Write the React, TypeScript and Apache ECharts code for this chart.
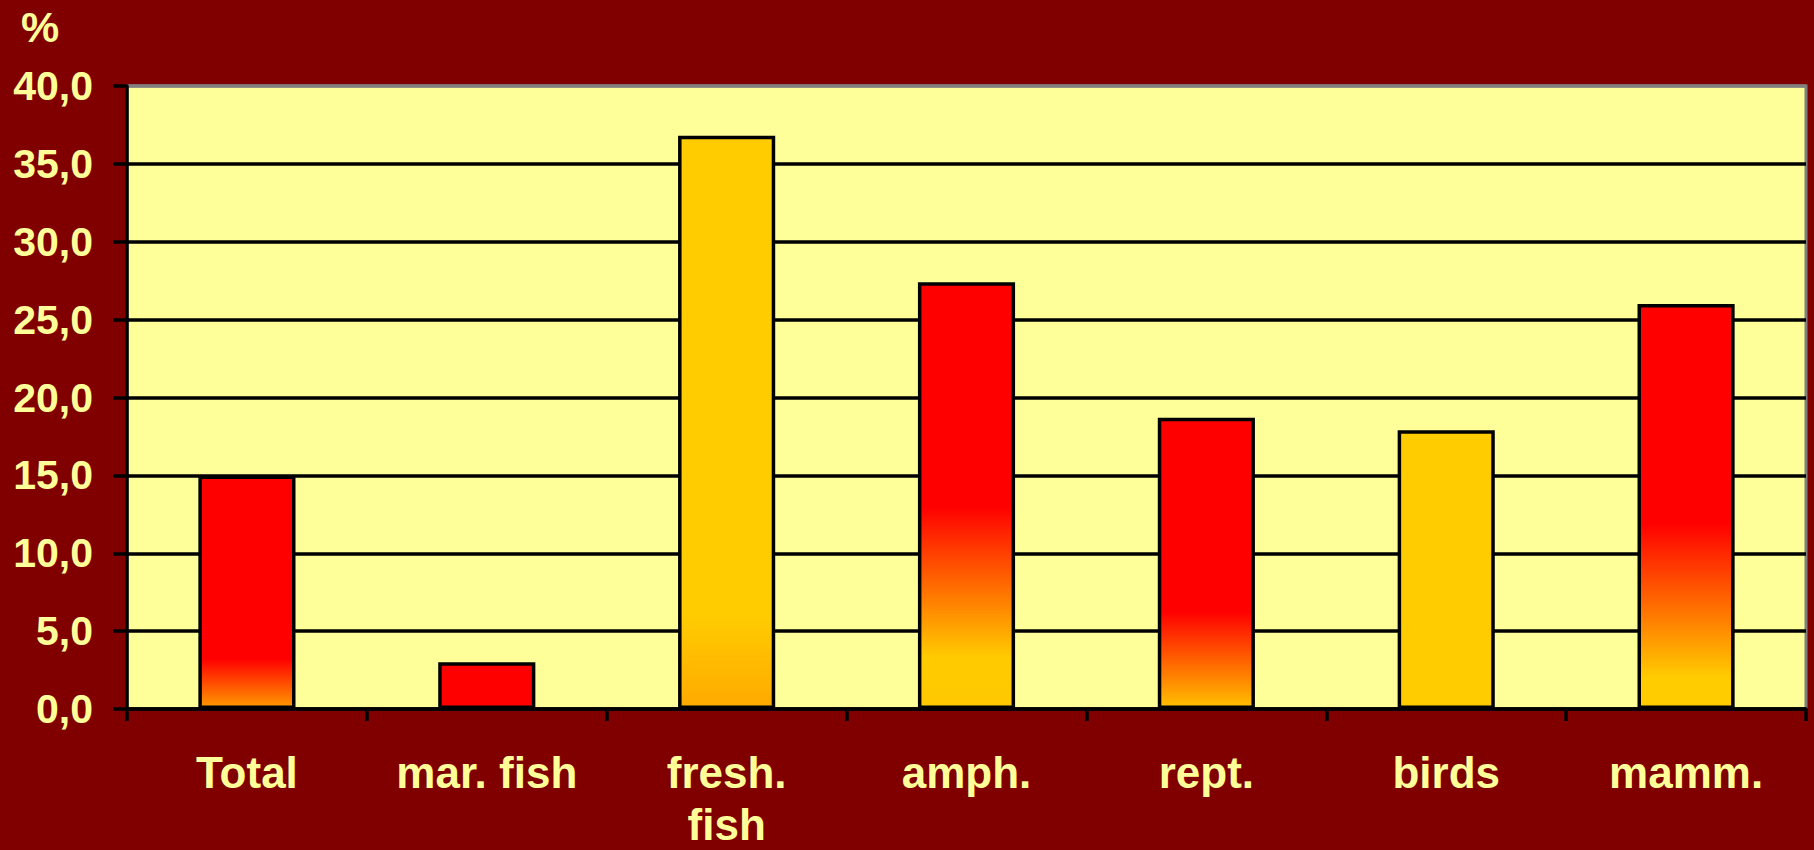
import React, { useEffect, useRef } from "react";
import * as echarts from "echarts";

const categories = ["Total", "mar. fish", "fresh.\nfish", "amph.", "rept.", "birds", "mamm."];
const values = [15.0, 3.0, 36.8, 27.4, 18.7, 17.9, 26.0];
const yTicks = { min: 0, max: 40, interval: 5 };
const unitLabel = "%";

// per-bar fill gradients (top -> bottom), styling only
const RED = "#FF0000";
const YEL = "#FFCC00";
const fills: [number, string][][] = [
  [[0, RED], [0.79, RED], [1, "#FF9900"]],
  [[0, RED], [1, RED]],
  [[0, YEL], [0.84, YEL], [1, "#FFAA00"]],
  [[0, RED], [0.526, RED], [0.883, YEL], [1, "#FFC800"]],
  [[0, RED], [0.668, RED], [1, "#FFC000"]],
  [[0, YEL], [1, YEL]],
  [[0, RED], [0.542, RED], [0.927, YEL], [1, YEL]],
];

const FONT = "'Liberation Sans', Arial, sans-serif";
const TXT = "#FFFF99";
const LW = 3.5;

export default function App() {
  const ref = useRef<HTMLDivElement>(null);
  useEffect(() => {
    if (!ref.current) return;
    const chart = echarts.init(ref.current, null, { renderer: "svg" });
    const nLines = (yTicks.max - yTicks.min) / yTicks.interval + 1;
    const splitColors = Array.from({ length: nLines }, (_, i) => (i === nLines - 1 ? "#808080" : "#000000"));
    chart.setOption({
      animation: false,
      backgroundColor: "#800000",
      grid: {
        left: 127,
        top: 86,
        width: 1679,
        height: 623,
        show: true,
        backgroundColor: "#FFFF99",
        borderColor: "#808080",
        borderWidth: 3,
        containLabel: false,
        outerBoundsMode: "none",
      },
      graphic: [
        {
          type: "text",
          left: 21,
          top: 5,
          style: { text: unitLabel, fill: TXT, font: `bold 43px ${FONT}` },
        },
      ],
      xAxis: {
        type: "category",
        data: categories,
        axisLine: { show: true, lineStyle: { color: "#000", width: LW } },
        axisTick: { show: true, alignWithLabel: false, length: 12, lineStyle: { color: "#000", width: LW } },
        axisLabel: {
          color: TXT,
          fontSize: 44,
          fontWeight: "bold",
          fontFamily: FONT,
          lineHeight: 52,
          margin: 37,
          interval: 0,
        },
        splitLine: { show: false },
      },
      yAxis: {
        type: "value",
        min: yTicks.min,
        max: yTicks.max,
        interval: yTicks.interval,
        axisLine: { show: true, lineStyle: { color: "#000", width: LW } },
        axisTick: { show: true, length: 14, lineStyle: { color: "#000", width: LW } },
        axisLabel: {
          color: TXT,
          fontSize: 41,
          fontWeight: "bold",
          fontFamily: FONT,
          margin: 34,
          formatter: (v: number) => v.toFixed(1).replace(".", ","),
        },
        splitLine: { show: true, lineStyle: { color: splitColors, width: LW } },
      },
      series: [
        {
          type: "bar",
          barWidth: "40.5%",
          data: values.map((v, i) => ({
            value: v,
            itemStyle: {
              color: new echarts.graphic.LinearGradient(
                0, 0, 0, 1,
                fills[i].map(([offset, color]) => ({ offset, color }))
              ),
              borderColor: "#000",
              borderWidth: LW,
            },
          })),
        },
      ],
    });
    return () => chart.dispose();
  }, []);
  return (
    <div
      ref={ref}
      style={{ position: "fixed", left: 0, top: 0, width: 1814, height: 850 }}
    />
  );
}
